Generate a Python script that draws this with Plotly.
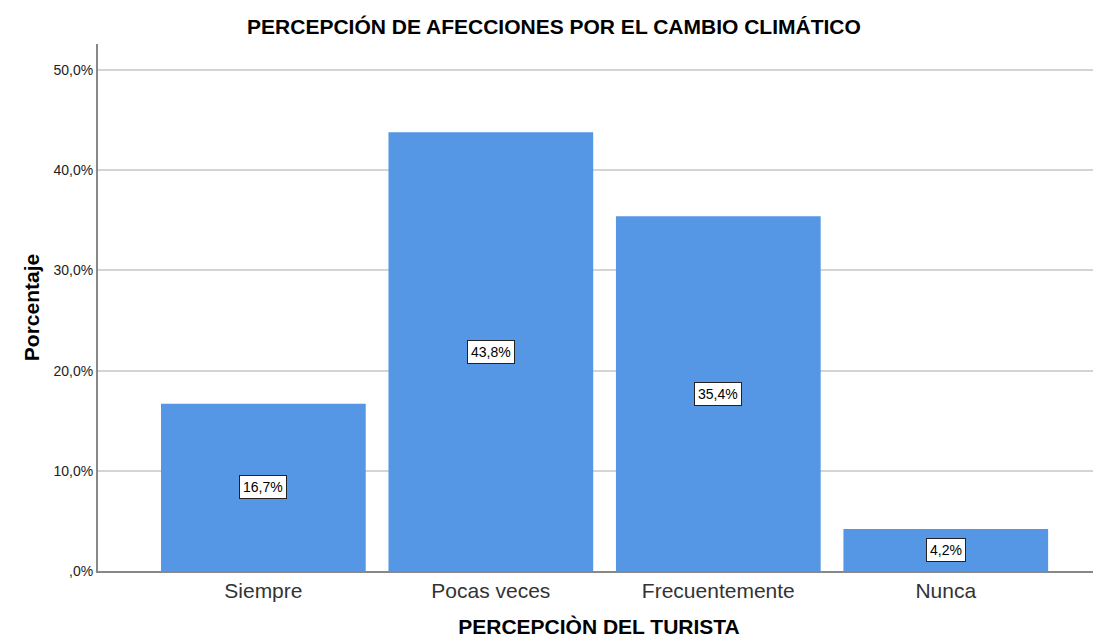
import plotly.graph_objects as go

categories = ["Siempre", "Pocas veces", "Frecuentemente", "Nunca"]
values = [16.7, 43.8, 35.4, 4.2]
value_labels = ["16,7%", "43,8%", "35,4%", "4,2%"]
y_tickvals = [0, 10, 20, 30, 40, 50]
y_ticktext = [",0%", "10,0%", "20,0%", "30,0%", "40,0%", "50,0%"]

FONT = "Liberation Sans, Arial, sans-serif"

fig = go.Figure()
fig.add_trace(go.Bar(
    x=list(range(len(categories))), y=values,
    marker=dict(color="#5596E5", line=dict(width=0)),
    width=0.9, hoverinfo="skip",
))

for i, (v, lab) in enumerate(zip(values, value_labels)):
    fig.add_annotation(
        x=i, y=v / 2, xref="x", yref="y", text=lab, showarrow=False,
        font=dict(family=FONT, size=14, color="#000"),
        bgcolor="white", bordercolor="#222", borderwidth=1, borderpad=3,
    )

fig.update_layout(
    width=1093, height=636,
    margin=dict(l=90, r=1, t=36, b=73),
    paper_bgcolor="white", plot_bgcolor="white",
    showlegend=False,
    title=dict(text="<b>PERCEPCIÓN DE AFECCIONES POR EL CAMBIO CLIMÁTICO</b>",
               xref="container", x=0.4995, xanchor="center", y=0.970, yanchor="middle",
               font=dict(family=FONT, size=21, color="#000")),
    xaxis=dict(
        range=[-0.727, 3.678], tickvals=list(range(len(categories))),
        ticktext=categories, showgrid=False, zeroline=False,
        showline=True, linecolor="#888", linewidth=2, ticks="",
        tickfont=dict(family=FONT, size=21, color="#333"),
        title=dict(text="<b>PERCEPCIÒN DEL TURISTA</b>", standoff=18,
                   font=dict(family=FONT, size=21, color="#000")),
    ),
    yaxis=dict(
        range=[0, 52.6], tickvals=y_tickvals, ticktext=y_ticktext,
        showgrid=True, gridcolor="#d4d4d4", gridwidth=2, zeroline=False,
        showline=True, linecolor="#888", linewidth=2, ticks="",
        tickfont=dict(family=FONT, size=14, color="#222"),
        title=dict(text="<b>Porcentaje</b>", standoff=8,
                   font=dict(family=FONT, size=21, color="#000")),
    ),
)

fig.write_html("out.html")
